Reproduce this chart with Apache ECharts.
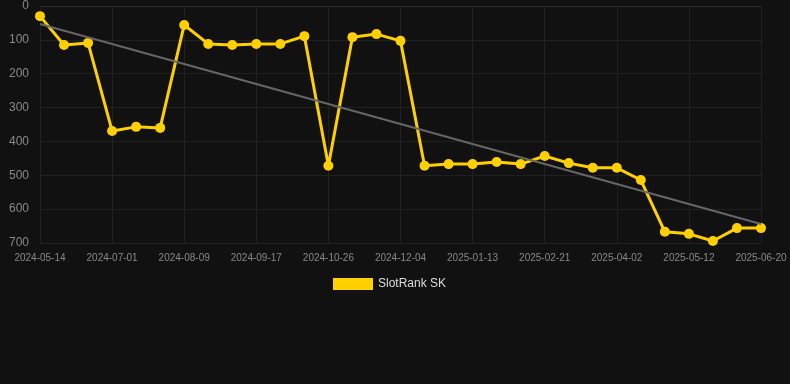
<!DOCTYPE html>
<html>
<head>
<meta charset="utf-8">
<script src="https://cdn.jsdelivr.net/npm/echarts@6/dist/echarts.min.js"></script>
<style>html,body{margin:0;padding:0;background:#111111;}#c{width:790px;height:384px;}</style>
</head>
<body>
<div id="c"></div>
<script>
var categories = ['2024-05-14','2024-05-30','2024-06-15','2024-07-01','2024-07-14','2024-07-27','2024-08-09','2024-08-22','2024-09-04','2024-09-17','2024-09-30','2024-10-13','2024-10-26','2024-11-08','2024-11-21','2024-12-04','2024-12-17','2024-12-30','2025-01-13','2025-01-26','2025-02-08','2025-02-21','2025-03-06','2025-03-19','2025-04-02','2025-04-15','2025-04-28','2025-05-12','2025-05-25','2025-06-07','2025-06-20'];
var rankValues = [30,115,109,369,357,360,56,112,115,112,112,89,472,92,83,103,472,467,467,461,467,443,464,478,478,514,667,673,694,656,656];
var trendStart = 53;
var trendEnd = 644;
var yTicks = {min:0, max:700, interval:100};
var seriesName = 'SlotRank SK';

var chart = echarts.init(document.getElementById('c'));
chart.setOption({
  backgroundColor:'#111111',
  animation:false,
  textStyle:{fontFamily:'Liberation Sans, Arial, sans-serif'},
  grid:{left:40,right:29,top:6,bottom:141,containLabel:false},
  legend:{
    data:[seriesName], top:273, left:328,
    itemWidth:40, itemHeight:12, icon:'rect',
    textStyle:{color:'#dddddd',fontSize:12}
  },
  xAxis:{
    type:'category', data:categories, boundaryGap:false,
    axisLine:{show:true,lineStyle:{color:'#2a2a2a',width:1}}, axisTick:{show:false},
    axisLabel:{color:'#888888',fontSize:10,interval:2,margin:10},
    splitLine:{show:true,interval:2,lineStyle:{color:'#202020',width:1}}
  },
  yAxis:{
    type:'value', inverse:true, min:yTicks.min, max:yTicks.max, interval:yTicks.interval,
    axisLine:{show:false}, axisTick:{show:false},
    axisLabel:{color:'#888888',fontSize:12,margin:11},
    splitLine:{show:true,lineStyle:{color:'#202020',width:1}}
  },
  series:[{
    name:seriesName, type:'line', data:rankValues,
    symbol:'circle', symbolSize:10,
    lineStyle:{color:'#FFD000',width:3},
    itemStyle:{color:'#FFD000'},
    markLine:{
      silent:true, symbol:'none', label:{show:false},
      lineStyle:{color:'#666666',width:2,type:'solid'},
      data:[[{coord:[categories[0],trendStart]},{coord:[categories[categories.length-1],trendEnd]}]]
    }
  }]
});
</script>
</body>
</html>
